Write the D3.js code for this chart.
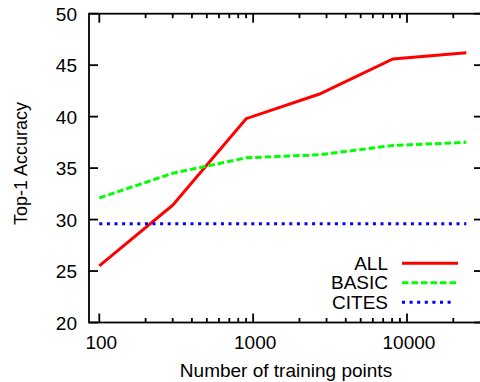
<!DOCTYPE html>
<html><head><meta charset="utf-8">
<script src="https://cdn.jsdelivr.net/npm/d3@7"></script>
<style>
html,body{margin:0;padding:0;background:#fff;}
svg text{font-family:"Liberation Sans",Arial,Helvetica,sans-serif;fill:#000;}
</style></head>
<body>
<svg id="c" width="480" height="382"></svg>
<script>
const trainingPoints = [100, 300, 900, 2700, 8100, 24300];
const allValues   = [25.5, 31.4, 39.8, 42.2, 45.6, 46.2];
const basicValues = [32.1, 34.5, 36.0, 36.3, 37.2, 37.5];
const citesValues = [29.6, 29.6, 29.6, 29.6, 29.6, 29.6];
const yTickValues = [20, 25, 30, 35, 40, 45, 50];
const xMajorTicks = [100, 1000, 10000];
const xMinorTicks = [200,300,400,500,600,700,800,900,2000,3000,4000,5000,6000,7000,8000,9000,20000];
const seriesNames = ["ALL", "BASIC", "CITES"];

const series = [
  {name: seriesNames[0], values: allValues,   color: "#ff0000", dash: null},
  {name: seriesNames[1], values: basicValues, color: "#00ff00", dash: "6.5,3"},
  {name: seriesNames[2], values: citesValues, color: "#0000ff", dash: "3,4.6"}
];

const L = 89, R = 483, T = 13.7, B = 322.5;
const svg = d3.select("#c");
const x = d3.scaleLog().domain([85.7, 31200]).range([L, R]);
const y = d3.scaleLinear().domain([20, 50]).range([B, T]);

const fs = 19;

// data lines
const line = d3.line().x((d,i) => x(trainingPoints[i])).y(d => y(d));
series.forEach(s => {
  svg.append("path").datum(s.values)
    .attr("d", line)
    .attr("fill", "none")
    .attr("stroke", s.color)
    .attr("stroke-width", 3)
    .attr("stroke-dasharray", s.dash);
});

// axes box
const g = svg.append("g").attr("stroke", "#000").attr("stroke-width", 1.8);
g.append("rect").attr("x", L).attr("y", T).attr("width", R - L).attr("height", B - T).attr("fill", "none");

// y ticks (left and right, inward)
yTickValues.forEach(v => {
  g.append("line").attr("x1", L).attr("x2", L + 9).attr("y1", y(v)).attr("y2", y(v));
  g.append("line").attr("x1", R).attr("x2", R - 9).attr("y1", y(v)).attr("y2", y(v));
});
// x ticks (bottom and top, inward)
xMajorTicks.forEach(v => {
  g.append("line").attr("x1", x(v)).attr("x2", x(v)).attr("y1", B).attr("y2", B - 9);
  g.append("line").attr("x1", x(v)).attr("x2", x(v)).attr("y1", T).attr("y2", T + 9);
});
xMinorTicks.forEach(v => {
  g.append("line").attr("x1", x(v)).attr("x2", x(v)).attr("y1", B).attr("y2", B - 4.5);
  g.append("line").attr("x1", x(v)).attr("x2", x(v)).attr("y1", T).attr("y2", T + 4.5);
});

// tick labels
yTickValues.forEach(v => {
  svg.append("text").attr("x", 77).attr("y", y(v) + 7)
    .attr("text-anchor", "end").attr("font-size", fs).text(v);
});
xMajorTicks.forEach(v => {
  svg.append("text").attr("x", x(v) + 2).attr("y", 349)
    .attr("text-anchor", "middle").attr("font-size", fs).text(v);
});

// axis titles
svg.append("text").attr("x", 286).attr("y", 377)
  .attr("text-anchor", "middle").attr("font-size", fs).text("Number of training points");
svg.append("text").attr("transform", "translate(26.5,163.5) rotate(-90)")
  .attr("text-anchor", "middle").attr("font-size", 18).text("Top-1 Accuracy");

// legend
const legY = [263.3, 282.7, 302.2];
series.forEach((s, i) => {
  svg.append("text").attr("x", 388).attr("y", legY[i] + 6.5)
    .attr("text-anchor", "end").attr("font-size", fs).text(s.name);
  svg.append("line").attr("x1", 402).attr("x2", i === 2 ? 455 : 458)
    .attr("y1", legY[i]).attr("y2", legY[i])
    .attr("stroke", s.color).attr("stroke-width", 3)
    .attr("stroke-dasharray", s.dash);
});
</script>
</body></html>
